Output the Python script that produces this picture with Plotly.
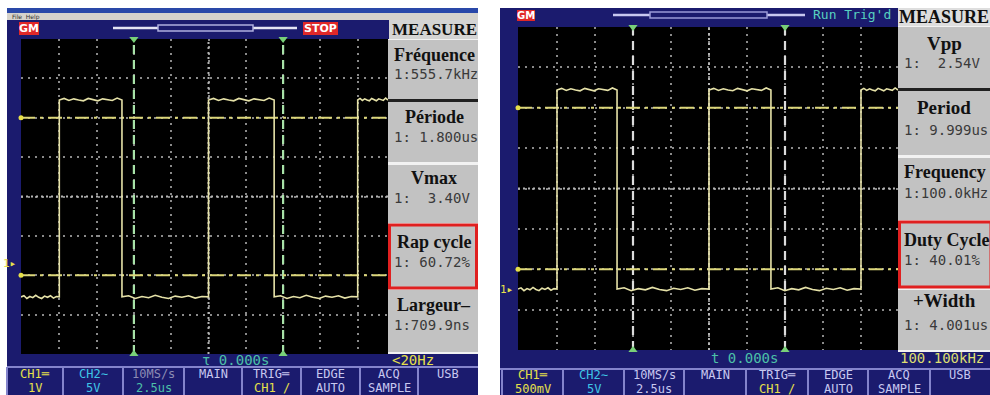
import numpy as np
import plotly.graph_objects as go

W, H = 990, 395

# ---------------- data (in screen divisions) ----------------
left_rise = [1.0, 5.0, 9.0]
left_fall = [2.68, 6.76]
left_high = 2.45
left_low = -2.55

right_rise = [1.0, 5.0, 9.0]
right_fall = [2.58, 6.63]
right_high = 2.44
right_low = -2.49

ripple_hi = [0.04, -0.01, 0.03, 0.00, -0.02, 0.04, 0.01, -0.02, 0.03, 0.01, -0.01, 0.05]
ripple_lo = [0.03, -0.04, 0.01, -0.02, 0.04, -0.01, -0.04, 0.02, -0.01, 0.03, -0.03, 0.01]

cursor_v = [3, 7]
cursor_h = [2, -2]
trig_pos = [5]

left_titles = ["Fréquence", "Période", "Vmax", "Rap cycle", "Largeur–"]
left_values = ["1:555.7kHz", "1: 1.800us", "1:  3.40V", "1: 60.72%", "1:709.9ns"]
right_titles = ["Vpp", "Period", "Frequency", "Duty Cycle", "+Width"]
right_values = ["1:  2.54V", "1: 9.999us", "1:100.0kHz", "1: 40.01%", "1: 4.001us"]

bar_top = ["CH1═", "CH2∼", "10MS/s", "MAIN", "TRIG═", "EDGE", "ACQ", "USB"]
left_bar_bottom = ["1V", "5V", "2.5us", "", "CH1 /", "AUTO", "SAMPLE", ""]
right_bar_bottom = ["500mV", "5V", "2.5us", "", "CH1 /", "AUTO", "SAMPLE", ""]

left_time = "τ 0.000s"
left_freq = "&lt;20Hz"
right_time = "t 0.000s"
right_freq = "100.100kHz"

# ---------------- helpers ----------------
def X(px):
    return px / W

def Y(py):
    return 1 - py / H

NAVY = "#1b1b6e"
LAV = "#c8c8f0"
YEL = "#e6e04a"
CYAN = "#3fc6e6"
TEAL = "#4cc0a8"
GRAYBOX = "#c2c2c2"

shapes = []
annotations = []

def rect(x0, y0, x1, y1, fill, line=None, lw=0, layer="below"):
    shapes.append(dict(type="rect", xref="paper", yref="paper",
                       x0=X(x0), x1=X(x1), y0=Y(y1), y1=Y(y0),
                       fillcolor=fill, layer=layer,
                       line=dict(color=line or fill, width=lw)))

def hline(x0, x1, y, color, w, layer="below"):
    shapes.append(dict(type="line", xref="paper", yref="paper",
                       x0=X(x0), x1=X(x1), y0=Y(y), y1=Y(y),
                       layer=layer, line=dict(color=color, width=w)))

def text(x, y, s, size, color, family="DejaVu Sans Mono", xa="center", bold=False, pad=1):
    if bold:
        s = "<b>" + s + "</b>"
    annotations.append(dict(x=X(x), y=Y(y), xref="paper", yref="paper",
                            text=s, showarrow=False, xanchor=xa, yanchor="middle",
                            borderpad=pad,
                            font=dict(size=size, color=color, family=family)))

def square(x0, x1, rises, falls, hi, lo):
    edges = sorted([(r, "r") for r in rises] + [(f, "f") for f in falls])
    level_hi = edges[0][1] != "r"
    cur = x0
    xs, ys = [], []
    for e, kind in edges + [(x1, "end")]:
        lev = hi if level_hi else lo
        rp = ripple_hi if level_hi else ripple_lo
        pts = np.linspace(cur, e, len(rp) + 2)[1:-1]
        xs += [cur] + list(pts) + [e]
        ys += [lev] + [lev + r for r in rp] + [lev]
        if kind == "r":
            level_hi = True
        elif kind == "f":
            level_hi = False
        cur = e
    return xs, ys

# ---------------- backgrounds ----------------
# left window
rect(7, 8, 478, 13, "#2a48a8")
rect(7, 13, 478, 20, "#d6d3cc")
text(10, 16.5, "File  Help", 6, "#303030", "DejaVu Sans", xa="left")
rect(7, 20, 478, 395, NAVY)
rect(21, 39, 388, 354, "#000000")
# right window
rect(500, 8, 990, 395, NAVY)
rect(518, 27, 898, 350, "#000000")

# top bars - left
rect(19, 22, 39, 35, "#e02828")
text(29, 29, "GM", 11, "white", "DejaVu Sans", bold=True)
hline(113, 297, 28, "#e4e4f4", 2.5)
rect(158, 25, 253, 31, NAVY, "#b0b0e0", 1.5)
rect(303, 22, 338, 35, "#e02828")
text(320.5, 29, "STOP", 11, "white", "DejaVu Sans", bold=True)
rect(389, 20, 478, 39, "#d4d4d4")
text(434, 29.5, "MEASURE", 17, "#101010", "Liberation Serif", bold=True)

# top bars - right
rect(517, 10, 535, 21, "#e02828")
text(526, 15.5, "GM", 10, "white", "DejaVu Sans", bold=True)
hline(613, 805, 15, "#c8c8f0", 2.5)
rect(650, 12, 767, 18, NAVY, "#9a9ad8", 1.5)
text(852, 15, "Run Trig'd", 13, "#58d0c0", "DejaVu Sans Mono")
rect(898, 8, 990, 26, "#dedede")
text(944, 17, "MEASURE", 18, "#101010", "Liberation Serif", bold=True)

# measure columns
rect(388, 39, 478, 354, "#f2f2f2")
left_boxes = [(40, 99), (102, 162), (165, 223), (225, 288), (290, 352)]
left_ty = [55, 117, 178, 242, 305]
left_vy = [74, 137, 198, 262, 325]
for i, (a, b) in enumerate(left_boxes):
    if i == 3:
        rect(389.5, a, 476.5, b, GRAYBOX, "#e02020", 3)
    else:
        rect(388, a, 478, b, GRAYBOX)
hline(388, 478, 100.5, "#202020", 3)
for t, v, ty, vy in zip(left_titles, left_values, left_ty, left_vy):
    text(434, ty, t, 18, "#111111", "Liberation Serif", bold=True)
    text(392, vy, v, 14, "#3a3a3a", "DejaVu Sans Mono", xa="left")

rect(898, 26, 990, 352, "#f2f2f2")
right_boxes = [(27, 88), (91, 155), (158, 220), (222, 287), (290, 350)]
right_ty = [43, 107, 172, 240, 300]
right_vy = [63, 130, 193, 260, 325]
for i, (a, b) in enumerate(right_boxes):
    if i == 3:
        rect(899.5, a, 991, b, GRAYBOX, "#e02020", 3)
    else:
        rect(898, a, 990, b, GRAYBOX)
hline(898, 990, 89.5, "#202020", 3)
for i, (t, v, ty, vy) in enumerate(zip(right_titles, right_values, right_ty, right_vy)):
    if i in (2, 3):
        text(902, ty, t, 18, "#111111", "Liberation Serif", xa="left", bold=True)
    else:
        text(944, ty, t, 19, "#111111", "Liberation Serif", bold=True)
    text(902, vy, v, 14, "#3a3a3a", "DejaVu Sans Mono", xa="left")

# info lines
text(235, 359.5, left_time, 14, TEAL)
text(390, 359.5, left_freq, 14, YEL, xa="left")
text(744, 358, right_time, 14, TEAL)
text(898, 358, right_freq, 14, "#dede70", xa="left")

# channel markers
text(9, 263, "1▸", 11, YEL)
text(507, 289, "1▸", 11, YEL)

# bottom bars
left_cells = [(7, 63), (63, 123), (123, 184), (184, 242), (242, 301), (301, 360), (360, 418), (418, 478)]
right_cells = [(502, 563), (563, 624), (624, 684), (684, 746), (746, 808), (808, 868), (868, 930), (930, 990)]
hline(7, 478, 367, "#8484cc", 2)
hline(500, 990, 369, "#8484cc", 2)
for (a, b) in left_cells:
    shapes.append(dict(type="line", xref="paper", yref="paper", x0=X(a), x1=X(a),
                       y0=Y(395), y1=Y(367), layer="below", line=dict(color="#8484cc", width=2)))
for (a, b) in right_cells:
    shapes.append(dict(type="line", xref="paper", yref="paper", x0=X(a), x1=X(a),
                       y0=Y(395), y1=Y(369), layer="below", line=dict(color="#8484cc", width=2)))

left_top_col = [YEL, CYAN, "#8c8cb4", LAV, LAV, LAV, LAV, LAV]
left_bot_col = [YEL, CYAN, TEAL, LAV, YEL, LAV, LAV, LAV]
right_top_col = [YEL, CYAN, LAV, LAV, LAV, LAV, LAV, LAV]
right_bot_col = [YEL, CYAN, LAV, LAV, YEL, LAV, LAV, LAV]
for (a, b), t, bt, c1, c2 in zip(left_cells, bar_top, left_bar_bottom, left_top_col, left_bot_col):
    text((a + b) / 2, 373.5, t, 12, c1, pad=0)
    if bt:
        text((a + b) / 2, 388, bt, 12, c2, pad=0)
for (a, b), t, bt, c1, c2 in zip(right_cells, bar_top, right_bar_bottom, right_top_col, right_bot_col):
    text((a + b) / 2, 375, t, 12, c1, pad=0)
    if bt:
        text((a + b) / 2, 389, bt, 12, c2, pad=0)

# ---------------- plot areas ----------------
fig = go.Figure()

panels = [
    dict(xa="x", ya="y", x0px=21, x1px=388, div0=22, pxdiv=37.3,
         rises=left_rise, falls=left_fall, hi=left_high, lo=left_low, cur="#a8e2a8"),
    dict(xa="x2", ya="y2", x0px=518, x1px=898, div0=519, pxdiv=38.0,
         rises=right_rise, falls=right_fall, hi=right_high, lo=right_low, cur="#dcdcdc"),
]

for p in panels:
    xr0 = (p["x0px"] - p["div0"]) / p["pxdiv"]
    xr1 = (p["x1px"] - p["div0"]) / p["pxdiv"]
    p["xr"] = [xr0, xr1]
    fig.add_trace(go.Scatter(x=[5, 5], y=[-4, 4], mode="lines", xaxis=p["xa"], yaxis=p["ya"],
                             line=dict(color="#b4b4b4", width=2, dash="2px,3px"), hoverinfo="skip"))
    fig.add_trace(go.Scatter(x=[xr0, xr1], y=[0, 0], mode="lines", xaxis=p["xa"], yaxis=p["ya"],
                             line=dict(color="#b4b4b4", width=2, dash="2px,3px"), hoverinfo="skip"))
    for c in cursor_v:
        fig.add_trace(go.Scatter(x=[c, c], y=[-4, 4], mode="lines", xaxis=p["xa"], yaxis=p["ya"],
                                 line=dict(color=p["cur"], width=2.2, dash="9px,6px"), hoverinfo="skip"))
    for c in cursor_h:
        fig.add_trace(go.Scatter(x=[xr0, xr1], y=[c, c], mode="lines", xaxis=p["xa"], yaxis=p["ya"],
                                 line=dict(color="#dcd67a", width=2, dash="14px,5px,3px,5px"),
                                 hoverinfo="skip"))
    wx, wy = square(xr0, xr1, p["rises"], p["falls"], p["hi"], p["lo"])
    fig.add_trace(go.Scatter(x=wx, y=wy, mode="lines", xaxis=p["xa"], yaxis=p["ya"],
                             line=dict(color="#e6e2a8", width=1.6), hoverinfo="skip"))
    fig.add_trace(go.Scatter(x=cursor_v + trig_pos, y=[4, 4, 4.05], mode="markers",
                             xaxis=p["xa"], yaxis=p["ya"], cliponaxis=False,
                             marker=dict(symbol="triangle-down", size=8, color="#78d078"),
                             hoverinfo="skip"))
    fig.add_trace(go.Scatter(x=cursor_v, y=[-4, -4], mode="markers",
                             xaxis=p["xa"], yaxis=p["ya"], cliponaxis=False,
                             marker=dict(symbol="triangle-up", size=8, color="#78d078"),
                             hoverinfo="skip"))
    fig.add_trace(go.Scatter(x=[xr0, xr0], y=cursor_h, mode="markers",
                             xaxis=p["xa"], yaxis=p["ya"], cliponaxis=False,
                             marker=dict(symbol="circle", size=5, color="#e6e04a"),
                             hoverinfo="skip"))

grid = dict(showgrid=True, gridcolor="#8a8a8a", griddash="2px,5px", gridwidth=1.5,
            zeroline=False, showticklabels=False, ticks="", showline=False,
            dtick=1, tick0=0, fixedrange=True)

fig.update_layout(
    width=W, height=H, margin=dict(l=0, r=0, t=0, b=0),
    paper_bgcolor="white", plot_bgcolor="rgba(0,0,0,0)",
    showlegend=False,
    shapes=shapes, annotations=annotations,
    xaxis=dict(domain=[X(21), X(388)], range=panels[0]["xr"], anchor="y", **grid),
    yaxis=dict(domain=[Y(354), Y(39)], range=[-4, 4], anchor="x", **grid),
    xaxis2=dict(domain=[X(518), X(898)], range=panels[1]["xr"], anchor="y2", **grid),
    yaxis2=dict(domain=[Y(350), Y(27)], range=[-4, 4], anchor="x2", **grid),
)

fig.write_html("out.html", config={"displayModeBar": False},
               post_script="document.body.style.margin='0';document.body.style.overflow='hidden';")
